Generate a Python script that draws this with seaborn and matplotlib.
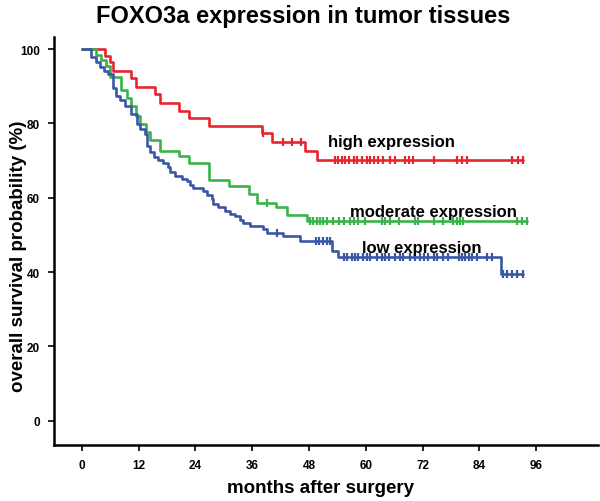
import numpy as np
import pandas as pd
import matplotlib
matplotlib.use("Agg")
import matplotlib.pyplot as plt
import seaborn as sns

# ---- data ----
high_t = [0, 4.9, 6.0, 6.6, 10.4, 11.5, 15.5, 16.4, 20.6, 22.6, 26.8, 38.0, 40.2, 47.1, 49.6, 93.3]
high_s = [100, 98.2, 96.4, 94.2, 92.2, 89.8, 87.8, 85.6, 83.4, 81.4, 79.3, 77.3, 75.0, 72.5, 70.2, 70.2]
high_c = [38.3, 42.4, 44.3, 46.4, 53.5, 54.2, 54.9, 55.6, 56.5, 57.4, 58.2, 59.1, 60.2, 60.9, 61.7,
          62.6, 63.6, 65.1, 66.2, 68.3, 69.2, 70.0, 74.3, 79.2, 80.3, 81.3, 90.8, 92.2, 93.3]

mod_t = [0, 3.0, 4.1, 5.1, 6.0, 8.2, 9.6, 10.4, 11.5, 12.2, 13.6, 14.4, 16.5, 20.6, 22.7, 26.9,
         31.1, 35.4, 37.1, 41.1, 43.3, 47.5, 94.0]
mod_s = [100, 98.5, 97.0, 95.4, 92.4, 89.0, 86.7, 84.8, 82.1, 79.8, 77.6, 75.6, 72.7, 71.1, 69.4, 64.8,
         63.1, 61.0, 58.6, 57.4, 55.4, 53.8, 53.8]
mod_c = [39.2, 48.2, 48.9, 49.6, 50.3, 51.0, 51.7, 53.1, 54.4, 55.4, 56.7, 57.5, 58.4, 59.8, 63.4,
         64.1, 65.1, 67.1, 70.4, 71.1, 74.3, 76.4, 78.5, 79.2, 79.9, 80.6, 91.9, 93.0, 94.0]

low_t = [0, 2.0, 3.0, 3.8, 4.7, 5.6, 6.6, 7.3, 8.0, 9.2, 10.3, 11.6, 12.3, 13.3, 13.7, 14.4, 15.2,
         16.1, 17.2, 18.2, 18.6, 19.7, 21.1, 22.1, 22.8, 23.5, 25.6, 26.4, 27.4, 27.8, 28.8, 30.2,
         31.3, 32.3, 33.4, 34.1, 35.5, 38.2, 39.2, 42.5, 46.1, 52.8, 54.2, 88.5, 93.3]
low_s = [100, 97.8, 96.4, 95.1, 94.2, 93.3, 89.5, 87.4, 86.2, 84.8, 82.5, 79.8, 78.5, 77.2, 74.0, 72.2, 71.0,
         70.2, 69.3, 68.2, 67.0, 65.9, 65.1, 64.5, 63.4, 62.5, 61.9, 60.7, 59.7, 58.4, 57.4, 56.5,
         55.6, 55.0, 53.9, 53.2, 52.5, 51.6, 50.6, 49.6, 48.3, 45.8, 44.0, 39.6, 39.6]
low_c = [41.2, 49.4, 50.2, 51.0, 51.8, 52.5, 55.3, 56.0, 57.0, 57.7, 58.4, 59.5, 60.2, 60.9, 62.3,
         63.4, 64.1, 64.8, 66.2, 67.2, 67.9, 69.3, 70.4, 71.5, 72.2, 73.2, 74.3, 75.0, 76.4, 77.4,
         79.6, 80.3, 81.0, 81.7, 82.4, 83.4, 85.6, 86.6, 89.0, 89.9, 90.9, 92.0, 93.2]

groups = ["high expression", "moderate expression", "low expression"]
x_ticks = [0, 12, 24, 36, 48, 60, 72, 84, 96]
y_ticks = [0, 20, 40, 60, 80, 100]

colors = {"high expression": "#E5262E", "moderate expression": "#3AB34A", "low expression": "#3A56A6"}

series = {
    "high expression": (high_t, high_s, high_c),
    "moderate expression": (mod_t, mod_s, mod_c),
    "low expression": (low_t, low_s, low_c),
}

curve_rows, cens_rows = [], []
for g, (t, s, c) in series.items():
    t = np.asarray(t); s = np.asarray(s)
    for ti, si in zip(t, s):
        curve_rows.append((g, ti, si))
    for ci in c:
        idx = np.searchsorted(t, ci, side="right") - 1
        cens_rows.append((g, ci, s[idx]))
curves = pd.DataFrame(curve_rows, columns=["group", "month", "surv"])
cens = pd.DataFrame(cens_rows, columns=["group", "month", "surv"])

sns.set_style("ticks")
plt.rcParams["font.family"] = ["Liberation Sans", "DejaVu Sans"]
plt.rcParams["font.weight"] = "bold"
for k in ["text.color", "axes.labelcolor", "xtick.color", "ytick.color", "axes.edgecolor"]:
    plt.rcParams[k] = "black"

fig = plt.figure(figsize=(6.0, 5.02), dpi=100)
ax = fig.add_axes([0.09, 0.1116, 0.907, 0.8124])

for g in groups:
    d = curves[curves.group == g]
    sns.lineplot(data=d, x="month", y="surv", ax=ax, color=colors[g], lw=1.9,
                 drawstyle="steps-post", estimator=None, sort=False, legend=False)
    dc = cens[cens.group == g]
    sns.scatterplot(data=dc, x="month", y="surv", ax=ax, color=colors[g], marker="|",
                    s=40, linewidth=1.6, legend=False, zorder=3)

label_pos = {"high expression": (52.0, 75.0), "moderate expression": (56.7, 56.2),
             "low expression": (59.2, 46.5)}
for g, (lx, ly) in label_pos.items():
    ax.text(lx, ly, g, fontsize=12, fontweight="bold", ha="left", va="center", color="black")

ax.set_xlim(-5.9, 109.1)
ax.set_ylim(-6.5, 103.2)
ax.set_xticks(x_ticks)
ax.set_yticks(y_ticks)
ax.set_xticklabels([str(v) for v in x_ticks], fontsize=8.5, fontweight="bold")
ax.set_yticklabels([str(v) for v in y_ticks], fontsize=8.5, fontweight="bold")
ax.tick_params(direction="out", length=4, width=1.2, color="black", pad=6)

for sp in ["top", "right"]:
    ax.spines[sp].set_visible(False)
for sp in ["left", "bottom"]:
    ax.spines[sp].set_linewidth(1.8)
    ax.spines[sp].set_color("black")

ax.set_xlabel("months after surgery", fontsize=13.5, fontweight="bold")
ax.set_ylabel("overall survival probability (%)", fontsize=13.5, fontweight="bold")
ax.xaxis.set_label_coords(0.49, -0.083)
ax.yaxis.set_label_coords(-0.05, 0.466)
fig.suptitle("FOXO3a expression in tumor tissues", fontsize=17, fontweight="bold", x=0.505, y=0.99)

fig.savefig("out.png", dpi=100)
